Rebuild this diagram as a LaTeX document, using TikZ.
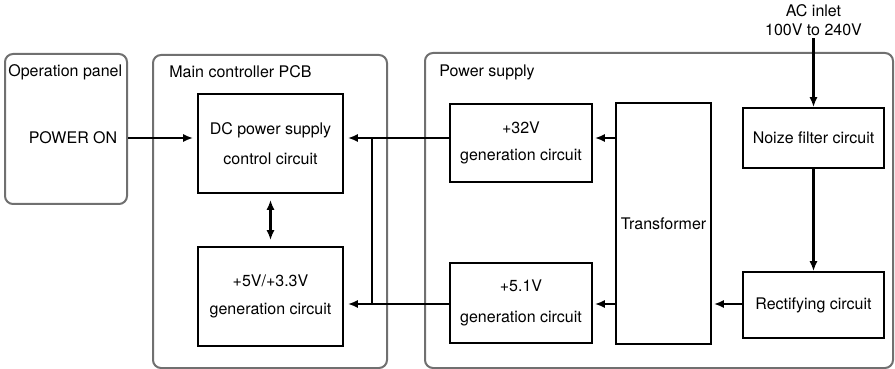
\documentclass[tikz,border=0pt]{standalone}
\usepackage{fontspec}
\setmainfont{TeX Gyre Heros}
\usetikzlibrary{arrows.meta,positioning}
\definecolor{pnlgray}{RGB}{112,112,112}

\begin{document}
\begin{tikzpicture}[x=0.5pt, y=-0.5pt,
  every node/.style={font=\fontsize{8}{9.6}\selectfont},
  blk/.style={draw, line width=0.8pt, inner sep=0pt, align=center},
  grp/.style={draw=pnlgray, line width=1pt, rounded corners=4pt, inner sep=0pt},
  conn/.style={line width=1.1pt, -{Latex[length=5pt,width=4pt]}},
  ttl/.style={anchor=west, inner sep=0pt}]
\useasboundingbox (0,0) rectangle (895,369);
% Containers
\node[grp, minimum width=61pt, minimum height=75pt] (opnl) at (66,129) {};
\node[grp, minimum width=117pt, minimum height=156.5pt] (pcb) at (270,211.5) {};
\node[grp, minimum width=234pt, minimum height=157.5pt] (psu) at (659,210.5) {};
\node[ttl] (opnlttl) at (8,72) {Operation panel};
\node[ttl] (pcbttl) at (169,72) {Main controller PCB};
\node[ttl] (psuttl) at (439,72) {Power supply};
% Main controller PCB
\node (pwr) at (73,138) {POWER ON};
\node[blk, minimum width=72.5pt, minimum height=49.5pt] (dc) at (270.5,143.5) {DC power supply\\[5.5pt]control circuit};
\node[blk, minimum width=72.5pt, minimum height=49.5pt] (v5) at (270.5,296.5) {+5V/+3.3V\\[4pt]generation circuit};
% Power supply
\node[blk, minimum width=71pt, minimum height=39pt] (p32) at (521,143) {+32V\\[4pt]generation circuit};
\node[blk, minimum width=71pt, minimum height=40pt] (p51) at (521,303) {+5.1V\\[5.5pt]generation circuit};
\node[blk, minimum width=47.5pt, minimum height=120.5pt] (tr) at (663.5,223.5) {Transformer};
\node[blk, minimum width=70.5pt, minimum height=30pt] (nf) at (813.5,138) {Noize filter circuit};
\node[blk, minimum width=70.5pt, minimum height=33pt] (rc) at (813.5,305) {Rectifying circuit};
\node[align=center, inner sep=1pt] (ac) at (813.5,20) {AC inlet\\100V to 240V};
% Bus
\coordinate (bustop) at (372,138);
\coordinate (busbot) at (372,304);
% Connectors
\draw[conn, shorten >=2pt] (opnl.east |- pwr) -- (dc.west |- pwr);
\draw[line width=1.1pt, {Latex[length=5pt,width=4pt]}-{Latex[length=5pt,width=4pt]}, shorten <=3pt, shorten >=3pt] (dc.south) -- (v5.north);
\draw[conn, shorten >=2pt] (p32.west |- bustop) -- (dc.east |- bustop);
\draw[conn, shorten >=2pt] (p51.west |- busbot) -- (v5.east |- busbot);
\draw[line width=1.1pt] (bustop) -- (busbot);
\draw[conn, shorten >=1pt] (tr.west |- bustop) -- (p32.east |- bustop);
\draw[conn, shorten >=1pt] (tr.west |- busbot) -- (p51.east |- busbot);
\draw[conn, shorten >=1pt] (rc.west |- busbot) -- (tr.east |- busbot);
\draw[conn] (nf.south) -- (rc.north);
\draw[conn] (ac.south) -- (nf.north);
\end{tikzpicture}
\end{document}
